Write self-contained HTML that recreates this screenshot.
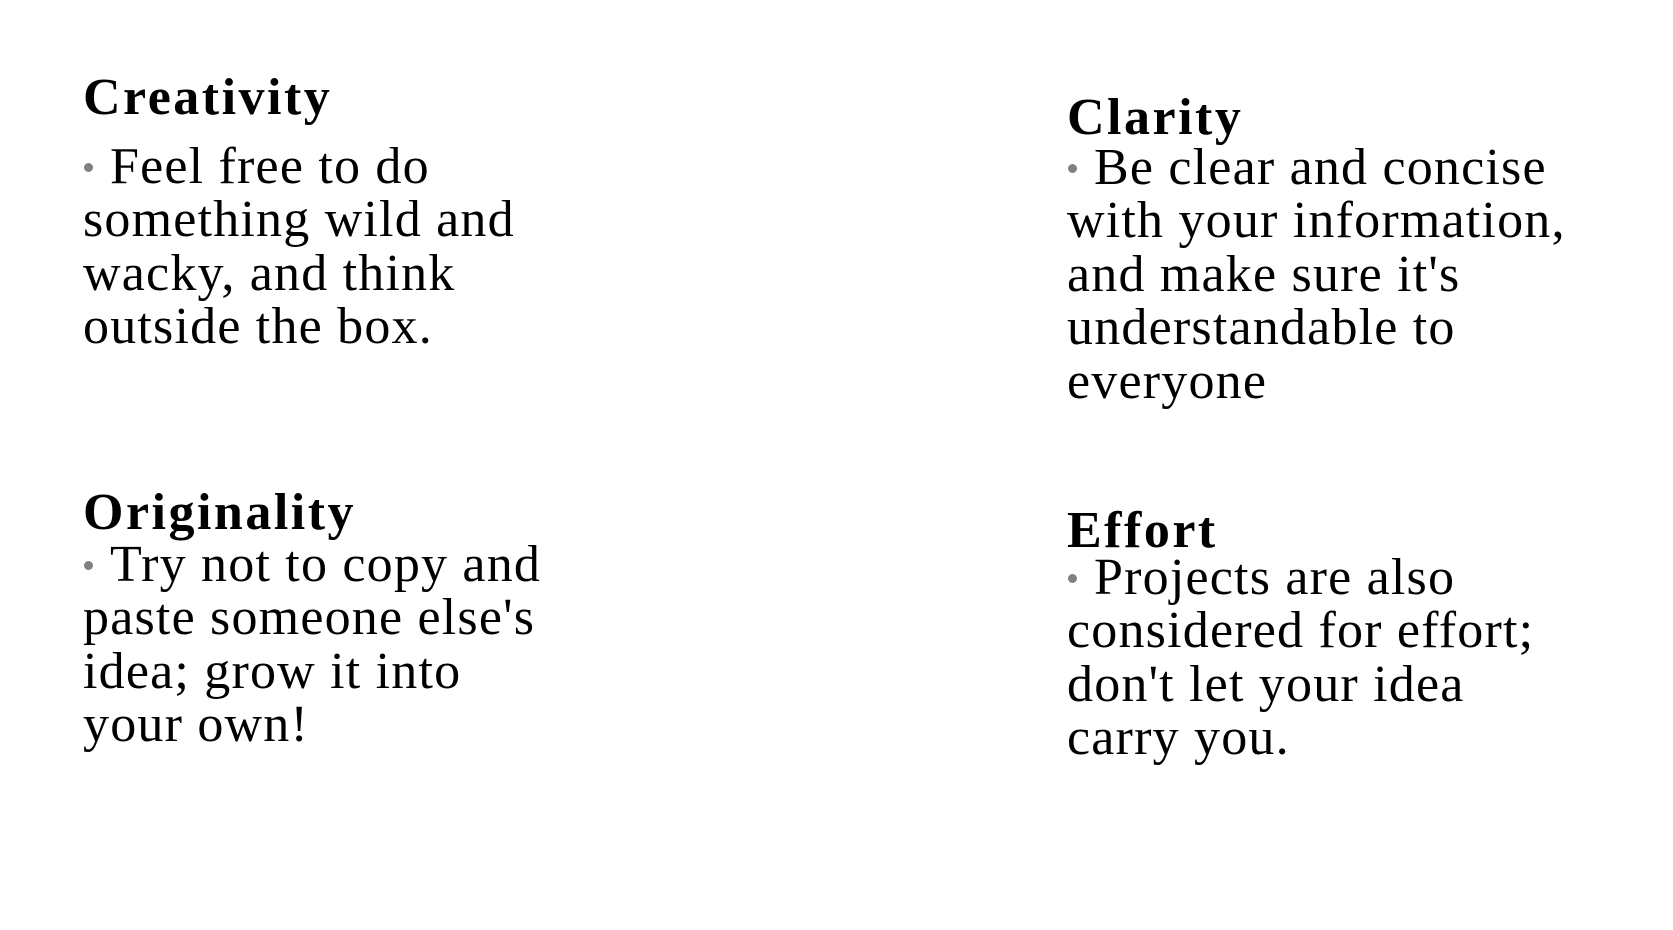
<!DOCTYPE html>
<html><head><meta charset="utf-8"><style>
html,body{margin:0;padding:0;background:#fff;width:1673px;height:930px;overflow:hidden;position:relative}
.h{position:absolute;font-family:"Liberation Serif",serif;font-weight:bold;font-size:52px;letter-spacing:2.5px;line-height:53.4px;white-space:pre;color:#000}
.b{position:absolute;font-family:"Liberation Serif",serif;font-size:52px;letter-spacing:1.2px;line-height:53.4px;white-space:pre;color:#000}
.d{display:inline-block;width:9px;height:9px;border-radius:50%;background:#808080;vertical-align:11px;margin-right:17px;margin-left:1px}
</style></head><body>
<div class="h" style="left:83px;top:71px">Creativity</div>
<div class="b" style="left:83px;top:140px"><span class="d"></span>Feel free to do
something wild and
wacky, and think
outside the box.</div>

<div class="h" style="left:1067px;top:91px">Clarity</div>
<div class="b" style="left:1067px;top:141px"><span class="d"></span>Be clear and concise
with your information,
and make sure it's
understandable to
everyone</div>

<div class="h" style="left:83px;top:486px">Originality</div>
<div class="b" style="left:83px;top:538px"><span class="d"></span>Try not to copy and
paste someone else's
idea; grow it into
your own!</div>

<div class="h" style="left:1067px;top:504px">Effort</div>
<div class="b" style="left:1067px;top:551px"><span class="d"></span>Projects are also
considered for effort;
don't let your idea
carry you.</div>
</body></html>
